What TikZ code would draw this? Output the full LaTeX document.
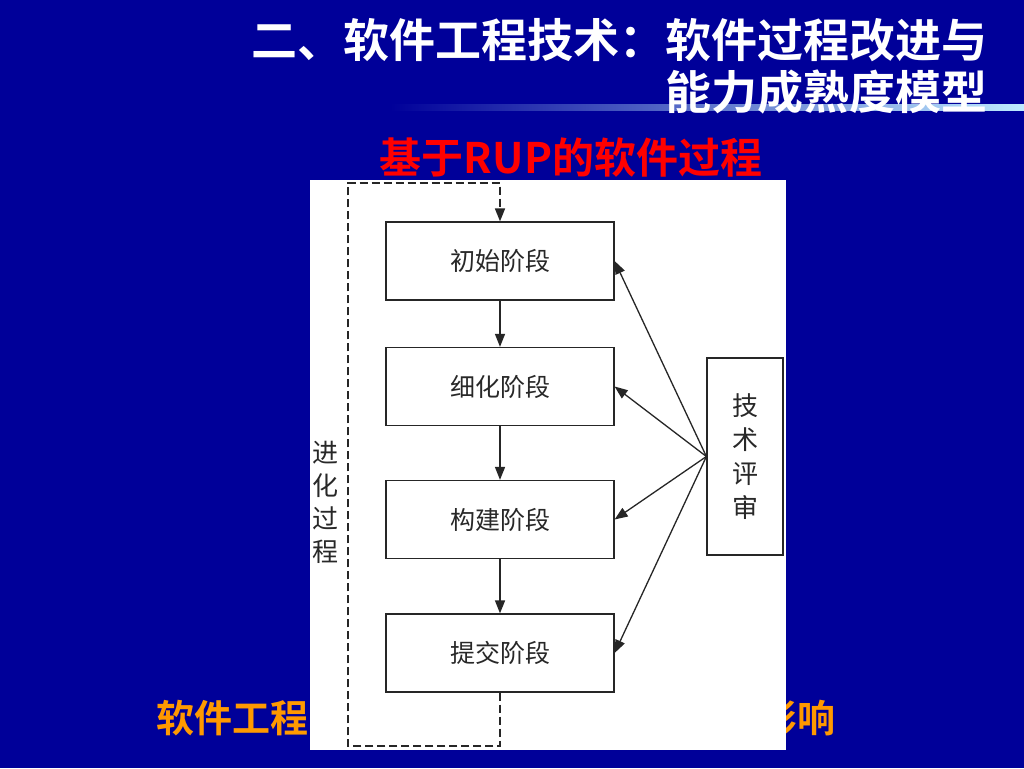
\documentclass[tikz,border=0pt]{standalone}
\usepackage{fontspec}
\newfontfamily\cjk[BoldFont={Noto Sans CJK SC Bold}]{Noto Sans CJK SC}
\usetikzlibrary{arrows.meta}
\definecolor{bg}{RGB}{0,0,153}
\definecolor{orng}{RGB}{255,153,0}
\definecolor{boxtxt}{RGB}{40,40,40}
\definecolor{barlight}{RGB}{190,235,255}
\tikzset{
  stagebox/.style={draw=black!85, line width=1.2pt, minimum width=228, minimum height=78, inner sep=0,
    text=boxtxt, font=\cjk\fontsize{25}{30}\selectfont},
  reviewbox/.style={draw=black!85, line width=1.2pt, minimum width=76, minimum height=197, inner sep=0,
    text=boxtxt, align=center, font=\cjk\fontsize{26}{34}\selectfont},
  flow/.style={line width=1.3pt, draw=black!85, -{Triangle[length=13pt,width=10pt]}},
  loopline/.style={line width=1.6pt, draw=black!85, dash pattern=on 8pt off 4pt, -{Triangle[length=13pt,width=10pt]}},
  ttl/.style={text=white, inner sep=0, font=\cjk\bfseries\fontsize{46}{50}\selectfont},
}
\begin{document}
\begin{tikzpicture}[x=1pt,y=-1pt]
\fill[bg] (0,0) rectangle (1024,768);
\useasboundingbox (0,0) rectangle (1024,768);
% gradient bar
\shade[left color=bg, right color=barlight] (390,104) rectangle (1024,110);
% title
\node[ttl, anchor=east] (t1) at (988,40) {二、软件工程技术：软件过程改进与};
\node[ttl, anchor=east] (t2) at (988,92) {能力成熟度模型};
% subtitle
\node[text=red, inner sep=0, font=\cjk\bfseries\fontsize{42}{46}\selectfont] (sub) at (571,158) {基于RUP的软件过程};
% bottom text (partly hidden behind picture)
\node[text=orng, inner sep=0, anchor=west, font=\cjk\bfseries\fontsize{38}{44}\selectfont] (b1) at (156,718) {软件工程};
\node[text=orng, inner sep=0, anchor=east, font=\cjk\bfseries\fontsize{38}{44}\selectfont] (b2) at (836,718) {影响};
% white picture area
\fill[white] (310,180) rectangle (786,750);
% stages
\node[stagebox] (s1) at (500,261) {初始阶段};
\node[stagebox] (s2) at (500,386.5) {细化阶段};
\node[stagebox] (s3) at (500,519.5) {构建阶段};
\node[stagebox] (s4) at (500,653) {提交阶段};
\node[reviewbox] (rev) at (745,456.5) {技\\术\\评\\审};
\node[text=boxtxt, inner sep=0, align=center, font=\cjk\fontsize{26}{33}\selectfont] (evo) at (325,502) {进\\化\\过\\程};
% flow arrows
\draw[flow] (s1.south) -- (s2.north);
\draw[flow] (s2.south) -- (s3.north);
\draw[flow] (s3.south) -- (s4.north);
% review arrows
\draw[flow] (rev.west) -- (s1.east);
\draw[flow] (rev.west) -- (s2.east);
\draw[flow] (rev.west) -- (s3.east);
\draw[flow] (rev.west) -- (s4.east);
% iteration loop
\coordinate (lb) at (348,746);
\coordinate (lt) at (348,183);
\draw[loopline] (s4.south) |- (lb) -- (lt) -| (s1.north);
\end{tikzpicture}
\end{document}
